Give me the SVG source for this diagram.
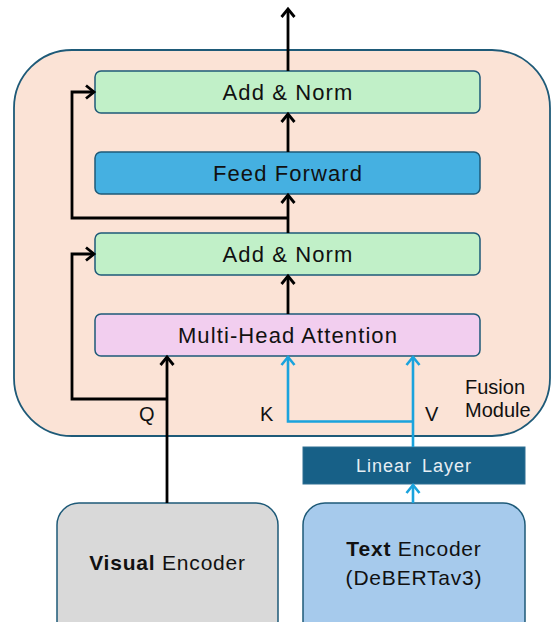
<svg xmlns="http://www.w3.org/2000/svg" width="551" height="622" viewBox="0 0 551 622">
<defs>
<style>
.box{stroke:#1E5A78;stroke-width:1.5}
.lbl{font-family:"Liberation Sans",Arial,sans-serif;font-size:22px;fill:#111;text-anchor:middle;letter-spacing:1.1px}
.sm{font-family:"Liberation Sans",Arial,sans-serif;font-size:20px;fill:#111}
.blk{fill:none;stroke:#000;stroke-width:2.8;stroke-linejoin:miter}
.blu{fill:none;stroke:#1AA3DD;stroke-width:2.6}
</style>
<marker id="ab" markerWidth="14" markerHeight="16" refX="10" refY="8" orient="auto" markerUnits="userSpaceOnUse">
<polyline points="2,1.5 10,8 2,14.5" fill="none" stroke="#000" stroke-width="2.8"/>
</marker>
<marker id="au" markerWidth="14" markerHeight="16" refX="10" refY="8" orient="auto" markerUnits="userSpaceOnUse">
<polyline points="2,1.5 10,8 2,14.5" fill="none" stroke="#1AA3DD" stroke-width="2.6"/>
</marker>
</defs>
<g id="fusion-module">
<rect x="14" y="50" width="536" height="386" rx="58" fill="#FBE3D6" stroke="#1E5A78" stroke-width="1.8"/>
<text class="sm" x="465" y="394">Fusion</text>
<text class="sm" x="465" y="417">Module</text>
</g>
<g id="add-norm-top">
<rect class="box" x="95" y="71" width="385" height="42" rx="6" fill="#C1F0C8"/>
<text class="lbl" x="288" y="100">Add &amp; Norm</text>
</g>
<g id="feed-forward">
<rect class="box" x="95" y="152" width="385" height="42" rx="6" fill="#45B0E1"/>
<text class="lbl" x="288" y="181">Feed Forward</text>
</g>
<g id="add-norm-bottom">
<rect class="box" x="95" y="233" width="385" height="42" rx="6" fill="#C1F0C8"/>
<text class="lbl" x="288" y="262">Add &amp; Norm</text>
</g>
<g id="mha">
<rect class="box" x="95" y="314" width="385" height="42" rx="6" fill="#F2CEEF"/>
<text class="lbl" x="288" y="343">Multi-Head Attention</text>
</g>
<g id="linear-layer">
<rect x="303" y="447" width="222" height="37" fill="#176087" stroke="#2F6F92" stroke-width="1"/>
<text x="414" y="472" font-family="'Liberation Sans',Arial,sans-serif" font-size="18" fill="#E6EEF4" text-anchor="middle" letter-spacing="1" word-spacing="4">Linear Layer</text>
</g>
<g id="visual-encoder">
<rect class="box" x="57" y="503" width="221" height="140" rx="22" fill="#D9D9D9"/>
<text class="lbl" x="167.5" y="570" style="font-size:21px;letter-spacing:0.8px"><tspan font-weight="bold">Visual</tspan> Encoder</text>
</g>
<g id="text-encoder">
<rect class="box" x="303" y="503" width="222" height="140" rx="22" fill="#A6CAEC"/>
<text class="lbl" x="414" y="556" style="font-size:21px;letter-spacing:0.8px"><tspan font-weight="bold">Text</tspan> Encoder</text>
<text class="lbl" x="414" y="585" style="font-size:21px;letter-spacing:0.8px">(DeBERTav3)</text>
</g>
<g id="connectors">
<line class="blk" x1="288" y1="71" x2="288" y2="9" marker-end="url(#ab)"/>
<line class="blk" x1="288" y1="152" x2="288" y2="114" marker-end="url(#ab)"/>
<line class="blk" x1="288" y1="233" x2="288" y2="195" marker-end="url(#ab)"/>
<polyline class="blk" points="288,218 72,218 72,92 94,92" marker-end="url(#ab)"/>
<line class="blk" x1="288" y1="314" x2="288" y2="276" marker-end="url(#ab)"/>
<line class="blk" x1="167" y1="503" x2="167" y2="357" marker-end="url(#ab)"/>
<polyline class="blk" points="167,399 72,399 72,254 94,254" marker-end="url(#ab)"/>
<line class="blu" x1="413" y1="447" x2="413" y2="357" marker-end="url(#au)"/>
<polyline class="blu" points="413,421.5 288,421.5 288,357" marker-end="url(#au)"/>
<line class="blu" x1="413" y1="503" x2="413" y2="485" marker-end="url(#au)"/>
<text class="sm" x="139" y="421">Q</text>
<text class="sm" x="260" y="421">K</text>
<text class="sm" x="425" y="421">V</text>
</g>
</svg>
